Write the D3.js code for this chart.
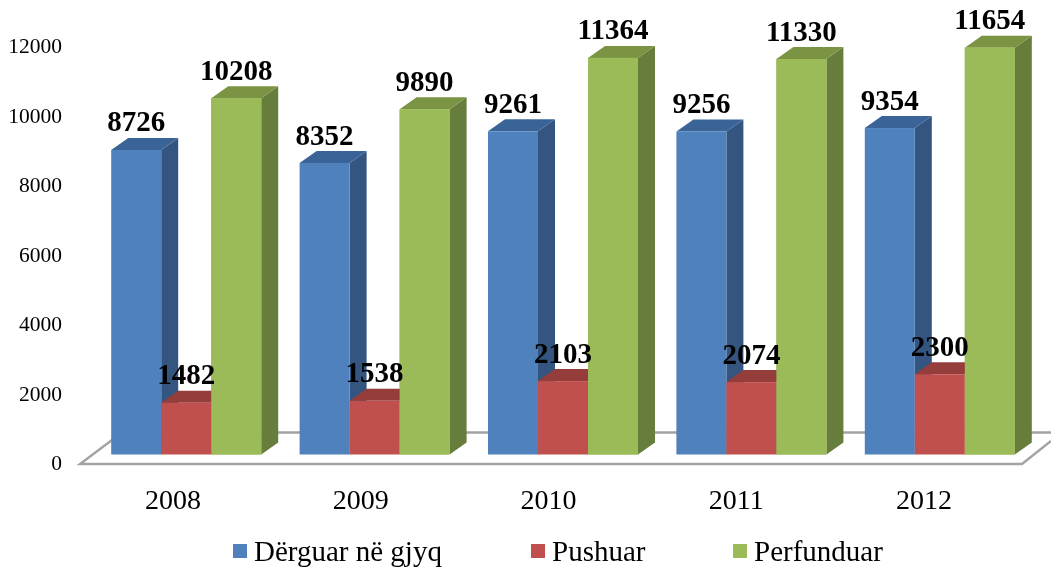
<!DOCTYPE html>
<html><head><meta charset="utf-8">
<script src="https://cdn.jsdelivr.net/npm/d3@7"></script>
<style>html,body{margin:0;padding:0;background:#fff}svg{display:block;filter:blur(0.45px)}text{font-family:"Liberation Serif",serif;fill:#000}</style>
</head><body><svg id="c" width="1051" height="569"></svg>
<script>
const years=["2008","2009","2010","2011","2012"];
const seriesNames=["Dërguar në gjyq","Pushuar","Perfunduar"];
const derguar=[8726,8352,9261,9256,9354];
const pushuar=[1482,1538,2103,2074,2300];
const perfunduar=[10208,9890,11364,11330,11654];
const yTicks=[0,2000,4000,6000,8000,10000,12000];
const frontColors=["#4F81BD","#C0504D","#9BBB59"];
const topColors=["#3A6497","#943D3B","#7A9444"];
const sideColors=["#34557F","#8A3836","#677D3B"];

const svg=d3.select("#c");
const base=454.5, dx=17, dy=12, bw=50;
const x=d3.scaleBand().domain(years).range([92,1034]);
const xLabel=d3.scaleBand().domain(years).range([79,1018]);
const y=d3.scaleLinear().domain([0,12000]).range([base,base-418.8]);
const tickY=d3.scaleLinear().domain([0,12000]).range([462,45]);
const values=[derguar,pushuar,perfunduar];

// floor
const floor=svg.append("g").attr("fill","none").attr("stroke","#A3A3A3").attr("stroke-width",2.4);
floor.append("path").attr("d","M1051,432.5L122,432.5L80,464L1022,464L1051,441");

// bars
years.forEach((yr,i)=>{
  const x0=x(yr)+x.bandwidth()/2-bw*1.5;
  [0,2,1].forEach(s=>{
    const v=values[s][i], l=x0+s*bw, r=l+bw, t=y(v);
    const g=svg.append("g");
    g.append("path").attr("fill",sideColors[s]).attr("d",`M${r},${t}L${r+dx},${t-dy}L${r+dx},${base-dy}L${r},${base}Z`);
    g.append("path").attr("fill",topColors[s]).attr("d",`M${l},${t}L${l+dx},${t-dy}L${r+dx},${t-dy}L${r},${t}Z`);
    g.append("rect").attr("x",l).attr("y",t).attr("width",bw).attr("height",base-t).attr("fill",frontColors[s]);
  });
  const gl=x0+2*bw;
  svg.append("rect").attr("x",gl).attr("y",y(perfunduar[i])).attr("width",bw).attr("height",base-y(perfunduar[i])).attr("fill",frontColors[2]);
});

// y axis labels
svg.append("g").selectAll("text").data(yTicks).join("text")
  .attr("x",62).attr("y",d=>tickY(d)+8).attr("text-anchor","end")
  .attr("font-size",21.5).text(d=>d);

// category labels
svg.append("g").selectAll("text").data(years).join("text")
  .attr("x",d=>xLabel(d)+xLabel.bandwidth()/2).attr("y",508.5).attr("text-anchor","middle")
  .attr("font-size",28).text(d=>d);

// data labels
years.forEach((yr,i)=>{
  const x0=x(yr)+x.bandwidth()/2-bw*1.5;
  values.forEach((arr,s)=>{
    svg.append("text").attr("x",x0+s*bw+bw/2).attr("y",y(arr[i])-18.5)
      .attr("text-anchor","middle").attr("font-size",29).attr("font-weight","bold").text(arr[i]);
  });
});

// legend
const legendX=[233,531,733];
const legend=svg.append("g").selectAll("g").data(seriesNames).join("g");
legend.append("rect").attr("x",(d,i)=>legendX[i]).attr("y",544).attr("width",14).attr("height",14).attr("fill",(d,i)=>frontColors[i]);
legend.append("text").attr("x",(d,i)=>legendX[i]+21).attr("y",561).attr("font-size",29).text(d=>d);
</script></body></html>
